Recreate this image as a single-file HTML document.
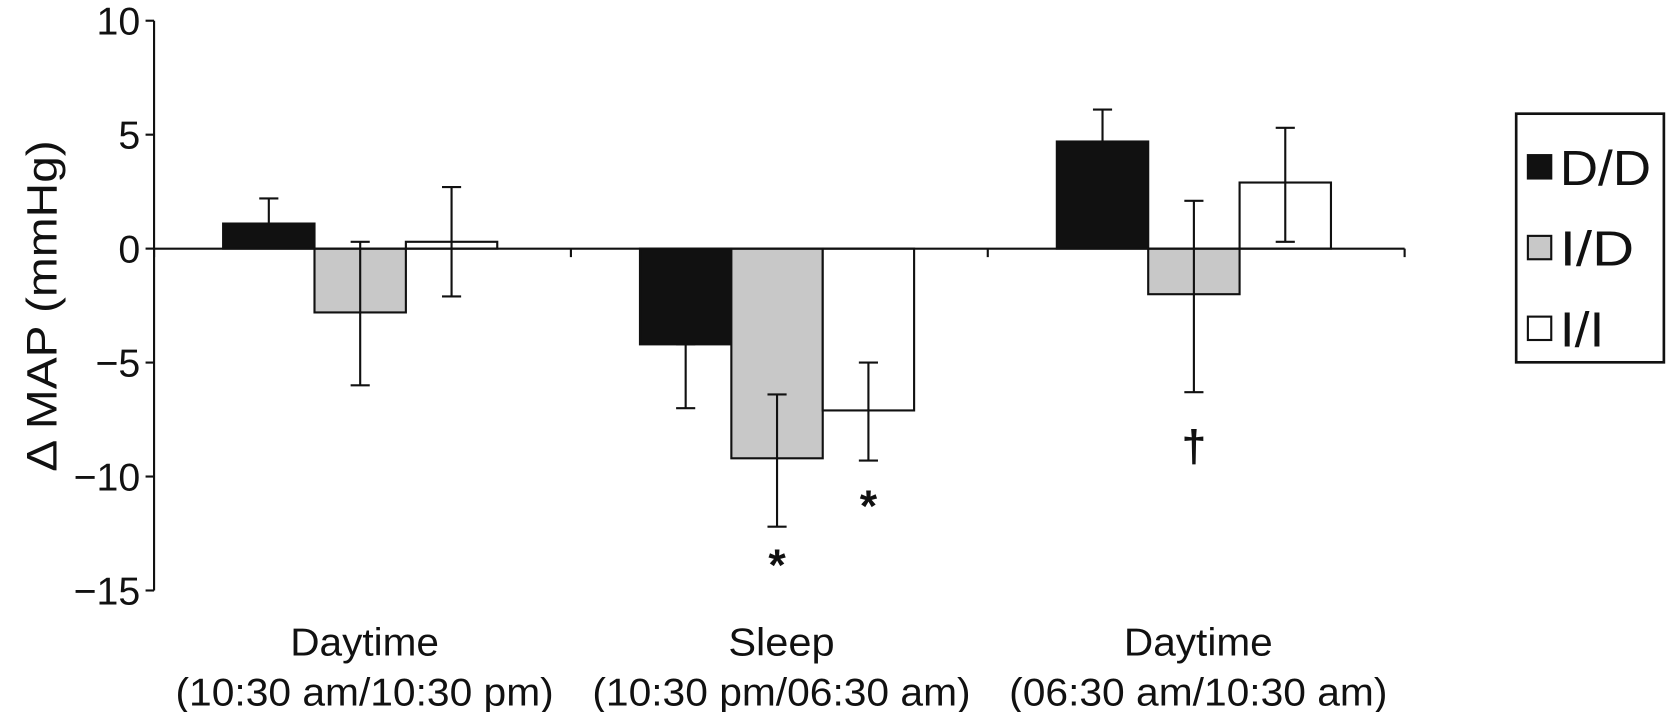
<!DOCTYPE html>
<html><head><meta charset="utf-8"><style>
body{margin:0;background:#fff;width:1666px;height:712px;overflow:hidden}
svg{font-family:"Liberation Sans",sans-serif}
</style></head><body>
<svg width="1666" height="712"><g id="chart" transform="scale(1.0625)"></g></svg>
<script>
const categories=["Daytime|(10:30 am/10:30 pm)","Sleep|(10:30 pm/06:30 am)","Daytime|(06:30 am/10:30 am)"];
const seriesNames=["D/D","I/D","I/I"];
const seriesFill=["#111","#c8c8c8","#fff"];
const valuesDD=[1.1,-4.2,4.7];
const valuesID=[-2.8,-9.2,-2.0];
const valuesII=[0.3,-7.1,2.9];
const lowDD=[1.1,-7.0,4.7];
const highDD=[2.2,-4.2,6.1];
const lowID=[-6.0,-12.2,-6.3];
const highID=[0.3,-6.4,2.1];
const lowII=[-2.1,-9.3,0.3];
const highII=[2.7,-5.0,5.3];
const yTicks=[10,5,0,-5,-10,-15];
const yTickLabels=["10","5","0","\u22125","\u221210","\u221215"];
const marks=[{cat:1,ser:1,text:"*",val:-13.8},{cat:1,ser:2,text:"*",val:-11.2},{cat:2,ser:1,text:"\u2020",val:-8.6}];

const NS="http://www.w3.org/2000/svg";
const svg=document.getElementById('chart');
const x0=145,x1=1322,gw=(x1-x0)/3,bw=86,off=65;
const y=v=>234-v*21.45;
const bx=(c,s)=>x0+c*gw+off+s*bw;
function el(t,a,p){const e=document.createElementNS(NS,t);for(const k in a)e.setAttribute(k,a[k]);(p||svg).appendChild(e);return e;}
const vals=[valuesDD,valuesID,valuesII],lows=[lowDD,lowID,lowII],highs=[highDD,highID,highII];
for(let s=0;s<3;s++)for(let c=0;c<3;c++){
 const v=vals[s][c];
 const r=el('rect',{x:bx(c,s),y:Math.min(y(v),y(0)),width:bw,height:Math.abs(y(v)-y(0)),fill:seriesFill[s],stroke:'#111','stroke-width':2});
 
 
 const cx=bx(c,s)+bw/2;
 const g=el('g',{stroke:'#111','stroke-width':2});
 
 
 el('line',{x1:cx,x2:cx,y1:y(lows[s][c]),y2:y(highs[s][c])},g);
 el('line',{x1:cx-9,x2:cx+9,y1:y(lows[s][c]),y2:y(lows[s][c])},g);
 el('line',{x1:cx-9,x2:cx+9,y1:y(highs[s][c]),y2:y(highs[s][c])},g);
}
const ax=el('g',{stroke:'#111','stroke-width':2});


el('line',{x1:x0,x2:x0,y1:y(10),y2:y(-15)},ax);
el('line',{x1:x0,x2:x1,y1:y(0),y2:y(0)},ax);
for(let i=0;i<=3;i++)el('line',{x1:x0+i*gw,x2:x0+i*gw,y1:y(0),y2:y(0)+8},ax);
yTicks.forEach((t,i)=>{
 el('line',{x1:x0-8,x2:x0,y1:y(t),y2:y(t)},ax);
 const tx=el('text',{x:x0-13,y:y(t)+13,'text-anchor':'end','font-size':37,fill:'#111'});
 tx.textContent=yTickLabels[i];
 
 
});
categories.forEach((c,i)=>{
 const [a,b]=c.split('|');const cx=x0+i*gw+gw/2;
 const t1=el('text',{x:cx+2,y:617,'text-anchor':'middle','font-size':37,fill:'#111',textLength:140,lengthAdjust:'spacingAndGlyphs'});t1.textContent=a;
 if(a==='Sleep'){t1.setAttribute('textLength',100);}
 
 
 const t2=el('text',{x:cx+2,y:664,'text-anchor':'middle','font-size':37,fill:'#111',textLength:356,lengthAdjust:'spacingAndGlyphs'});t2.textContent=b;
 
 
});
marks.forEach(m=>{
 const t=el('text',{x:bx(m.cat,m.ser)+bw/2,y:y(m.val)+16,'text-anchor':'middle','font-size':42,'font-weight':'bold',fill:'#111'});
 t.textContent=m.text;
 
 
});
const yt=el('text',{transform:'translate(53,288) rotate(-90)','text-anchor':'middle','font-size':40,fill:'#111',textLength:312,lengthAdjust:'spacingAndGlyphs'});
yt.textContent='\u0394 MAP (mmHg)';


const lg=el('g',{});


el('rect',{x:1427,y:107,width:139,height:234,fill:'#fff',stroke:'#111','stroke-width':2.5},lg);
seriesNames.forEach((n,i)=>{
 const cy=158+i*76;
 const r=el('rect',{x:1438,y:cy-12,width:22,height:22,fill:seriesFill[i],stroke:'#111','stroke-width':2},lg);
 
 
 const t=el('text',{x:1468,y:cy+16,'font-size':46,fill:'#111',textLength:(n==='D/D'?86:(n==='I/D'?70:42)),lengthAdjust:'spacingAndGlyphs'},lg);t.textContent=n;
 
 
});
</script>
</body></html>
